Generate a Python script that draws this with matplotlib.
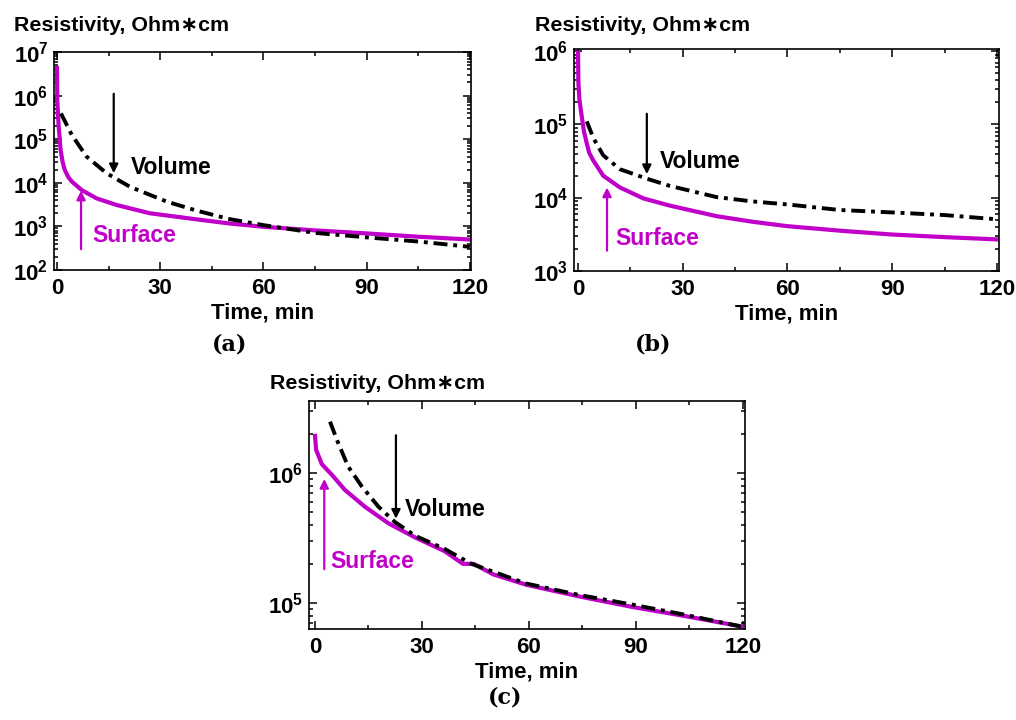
import math
import matplotlib
matplotlib.use('Agg')
import matplotlib.pyplot as plt
from matplotlib.ticker import FuncFormatter, LogLocator, MultipleLocator, NullFormatter

plt.rcParams['font.family'] = ['Liberation Sans', 'DejaVu Sans']
plt.rcParams['font.weight'] = 'bold'
plt.rcParams['mathtext.fontset'] = 'custom'
plt.rcParams['mathtext.bf'] = 'Liberation Sans:bold'
plt.rcParams['mathtext.rm'] = 'Liberation Sans:bold'
plt.rcParams['mathtext.default'] = 'bf'

MAGENTA = '#C000C8'

# ---- data (time in min, resistivity in Ohm*cm) ----
# (a)
t_a_surf = [0, 0.1, 0.3, 0.5, 1.07, 1.65, 2.3, 3.3, 4.3, 7.2, 11.5, 17.3, 27, 40.6, 50, 60,
            75, 90, 105, 120]
r_a_surf = [4.27e6, 7.9e5, 3.9e5, 1.95e5, 5.6e4, 3.0e4, 1.95e4, 1.35e4, 1.07e4, 6.8e3, 4.4e3,
            3.1e3, 2.0e3, 1.45e3, 1.17e3, 9.8e2, 8.1e2, 6.9e2, 5.8e2, 5.0e2]
t_a_vol = [1.16, 4.3, 8.6, 14.4, 21.2, 31.9, 40.6, 50, 60, 75, 90, 105, 120]
r_a_vol = [3.9e5, 1.26e5, 4.0e4, 1.66e4, 8.1e3, 3.7e3, 2.3e3, 1.48e3, 1.07e3, 7.1e2, 5.6e2,
           4.5e2, 3.4e2]

# (b)
t_b_surf = [0, 0.1, 0.38, 1.05, 1.72, 2.5, 3.2, 4.4, 7.2, 12, 18.7, 26.3, 39.7, 50, 59.8, 75,
            89.8, 105, 120]
r_b_surf = [9.5e5, 3.7e5, 2.2e5, 1.29e5, 7.9e4, 5.5e4, 4.1e4, 3.2e4, 2.0e4, 1.38e4, 9.8e3,
            7.8e3, 5.6e3, 4.7e3, 4.1e3, 3.55e3, 3.15e3, 2.9e3, 2.7e3]
t_b_vol = [2.5, 4.4, 7.2, 12, 19.7, 26.3, 39.7, 50, 60, 75, 90, 105, 119.5]
r_b_vol = [1.1e5, 6.5e4, 3.8e4, 2.45e4, 1.82e4, 1.45e4, 1.02e4, 8.9e3, 8.1e3, 6.8e3, 6.3e3,
           5.8e3, 5.1e3]

# (c)
t_c_surf = [0, 0.3, 1.9, 4.7, 8.4, 14, 20.6, 28, 36.4, 41.5, 44.5, 50, 59.3, 74.3, 89.2,
            104.2, 119.6]
r_c_surf = [1.93e6, 1.51e6, 1.17e6, 9.7e5, 7.4e5, 5.5e5, 4.1e5, 3.2e5, 2.5e5, 2.0e5, 2.0e5,
            1.66e5, 1.38e5, 1.12e5, 9.3e4, 7.9e4, 6.6e4]
t_c_vol = [4.2, 6.5, 9.3, 13.1, 17.8, 22.4, 28, 36.4, 43.9, 50, 59.3, 74.3, 89.2, 104, 119.5]
r_c_vol = [2.48e6, 1.7e6, 1.12e6, 7.9e5, 5.5e5, 4.2e5, 3.3e5, 2.6e5, 2.0e5, 1.74e5, 1.41e5,
           1.15e5, 9.7e4, 8.1e4, 6.6e4]

xticks = [0, 30, 60, 90, 120]

fig = plt.figure(figsize=(10.16, 7.2), dpi=100)

ax_a = fig.add_axes([0.0531, 0.625, 0.4104, 0.3028])
ax_b = fig.add_axes([0.565, 0.6236, 0.4183, 0.3083])
ax_c = fig.add_axes([0.3041, 0.1264, 0.4291, 0.3167])

panels = [
    # ax, surf, vol, xlim, ylim, vol arrow (t, y0, y1), vol text, surf arrow, surf text
    (ax_a, (t_a_surf, r_a_surf), (t_a_vol, r_a_vol), (-0.87, 120.3), (1e2, 1e7),
     (16.5, 1.1e6, 1.66e4), (21.5, 2.3e4), (7.0, 3.0e2, 6.6e3), (10.4, 6.3e2)),
    (ax_b, (t_b_surf, r_b_surf), (t_b_vol, r_b_vol), (-1.15, 120.6), (1e3, 1.07e6),
     (19.7, 1.4e5, 2.1e4), (23.5, 3.1e4), (8.3, 1.9e3, 1.38e4), (10.6, 2.75e3)),
    (ax_c, (t_c_surf, r_c_surf), (t_c_vol, r_c_vol), (-1.7, 120.6), (10 ** 4.8, 10 ** 6.554),
     (22.7, 1.95e6, 4.45e5), (25.2, 5.2e5), (2.6, 1.82e5, 9.0e5), (4.4, 2.1e5)),
]

decade_fmt = FuncFormatter(lambda v, p: r'$10^{%d}$' % round(math.log10(v)))

for ax, surf, vol, xl, yl, varr, vtxt, sarr, stxt in panels:
    ax.plot(vol[0], vol[1], color='black', lw=2.8, linestyle=(0, (3.6, 1.5, 1, 1.5)),
            zorder=3)
    ax.plot(surf[0], surf[1], color=MAGENTA, lw=3.0, zorder=2)
    ax.set_yscale('log')
    ax.set_xlim(*xl)
    ax.set_ylim(*yl)
    ax.set_xticks(xticks)
    ax.xaxis.set_minor_locator(MultipleLocator(15))
    ax.yaxis.set_major_locator(LogLocator(base=10, numticks=20))
    ax.yaxis.set_minor_locator(LogLocator(base=10, subs=range(2, 10), numticks=20))
    ax.yaxis.set_major_formatter(decade_fmt)
    ax.yaxis.set_minor_formatter(NullFormatter())
    ax.tick_params(which='both', direction='in', top=True, right=True, width=1.1)
    ax.tick_params(which='major', length=6)
    ax.tick_params(which='minor', length=3)
    ax.tick_params(axis='x', which='major', labelsize=16, pad=6)
    ax.tick_params(axis='y', which='major', labelsize=16, pad=4)
    for lab in ax.get_xticklabels():
        lab.set_fontweight('bold')
    for sp in ax.spines.values():
        sp.set_linewidth(1.2)
    ax.set_xlabel('Time, min', fontsize=16, fontweight='bold', labelpad=2)

    ax.annotate('', xy=(varr[0], varr[2]), xytext=(varr[0], varr[1]),
                arrowprops=dict(arrowstyle='-|>', color='black', lw=1.6,
                                mutation_scale=13, shrinkA=0, shrinkB=0))
    ax.text(vtxt[0], vtxt[1], 'Volume', fontsize=16.5, fontweight='bold',
            color='black', ha='left', va='center')
    ax.annotate('', xy=(sarr[0], sarr[2]), xytext=(sarr[0], sarr[1]),
                arrowprops=dict(arrowstyle='-|>', color=MAGENTA, lw=1.6,
                                mutation_scale=13, shrinkA=0, shrinkB=0))
    ax.text(stxt[0], stxt[1], 'Surface', fontsize=16.5, fontweight='bold',
            color=MAGENTA, ha='left', va='center')

title = 'Resistivity, Ohm\u2217cm'
fig.text(0.0138, 0.965, title, fontsize=15.4, fontweight='bold', ha='left', va='center')
fig.text(0.5266, 0.965, title, fontsize=15.4, fontweight='bold', ha='left', va='center')
fig.text(0.2657, 0.468, title, fontsize=15.4, fontweight='bold', ha='left', va='center')

for x, y, s in [(0.226, 0.521, '(a)'), (0.643, 0.521, '(b)'), (0.497, 0.031, '(c)')]:
    fig.text(x, y, s, fontsize=16, family='DejaVu Serif', fontweight='bold',
             ha='center', va='center')

fig.savefig('out.png', dpi=100)
